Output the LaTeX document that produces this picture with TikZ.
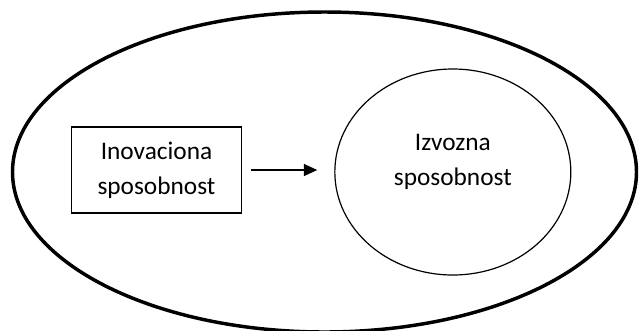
\documentclass[tikz,border=0pt]{standalone}
\usepackage{fontspec}
\setmainfont{Carlito}
\usetikzlibrary{shapes.geometric, arrows.meta, positioning}

\begin{document}
\begin{tikzpicture}[
  x = 0.75pt,
  y = -0.75pt,
  node distance = 69pt,
  font = \fontsize{19}{26.25}\selectfont,
  okvir/.style = {
    ellipse,
    draw,
    line width = 2.6pt,
    minimum width = 468pt,
    minimum height = 240pt,
    inner sep = 0pt
  },
  blok/.style = {
    rectangle,
    draw,
    line width = 1.1pt,
    minimum width = 127.5pt,
    minimum height = 64.5pt,
    align = center,
    inner sep = 0pt
  },
  krug/.style = {
    ellipse,
    draw,
    line width = 0.9pt,
    minimum width = 177pt,
    minimum height = 154.5pt,
    inner sep = 0pt
  },
  strelica/.style = {
    -{Triangle[length=10pt, width=9pt]},
    line width = 0.9pt,
    shorten <= 6.75pt,
    shorten >= 12.75pt
  }
]
\useasboundingbox (0,0) rectangle (639,330);

% Nodes
\node[okvir] (okruzenje) at (324.5,172) {};
\node[blok] (inovaciona) at (156.5,170) {Inovaciona\\sposobnost};
\node[krug, right=of inovaciona, yshift=-1.5pt,
  label={[align=center, yshift=7.5pt]center:Izvozna\\sposobnost}] (izvozna) {};

% Arrows
\draw[strelica] (inovaciona.east) -- (inovaciona.east -| izvozna.west);

\end{tikzpicture}
\end{document}
